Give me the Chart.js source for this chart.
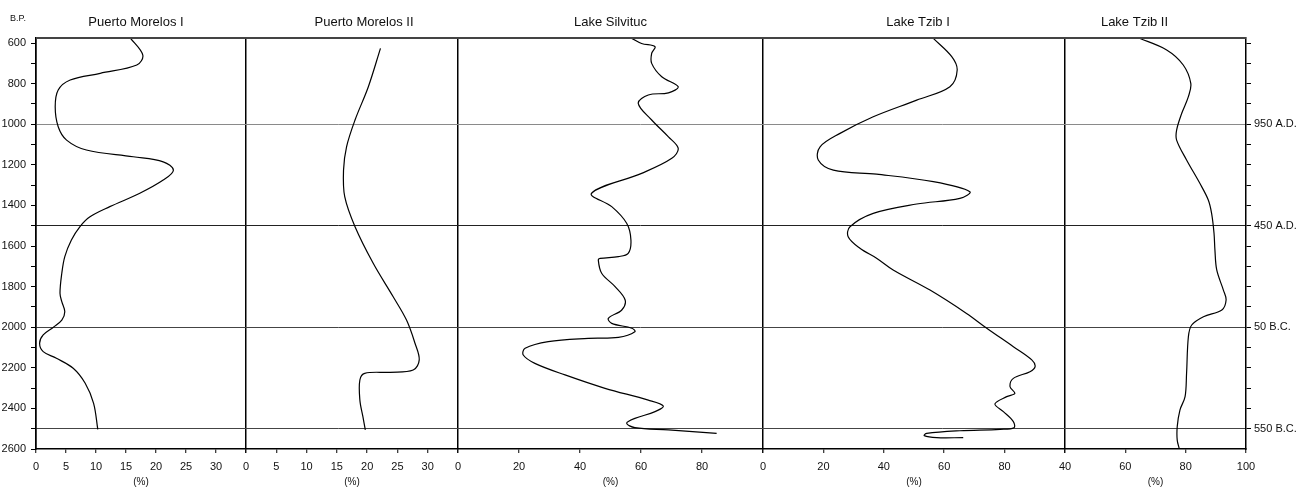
<!DOCTYPE html>
<html>
<head>
<meta charset="utf-8">
<script src="https://cdn.jsdelivr.net/npm/chart.js@4"></script>
<style>
  body { margin: 0; background: #fff; }
  #wrap { width: 1309px; height: 488px; }
</style>
</head>
<body>
<div id="wrap"><canvas id="chart"></canvas></div>
<script>
// Age axis (years B.P.)
const ageTicks = [600, 700, 800, 900, 1000, 1100, 1200, 1300, 1400, 1500, 1600, 1700, 1800, 1900, 2000, 2100, 2200, 2300, 2400, 2500, 2600];
const eraTicks = [600, 700, 800, 900, 1000, 1100, 1200, 1300, 1400, 1500, 1600, 1700, 1800, 1900, 2000, 2100, 2200, 2300, 2400, 2500];
const eraLabels = { 1000: "950 A.D.", 1500: "450 A.D.", 2000: "50 B.C.", 2500: "550 B.C." };

// Panels
const panelNames = ["Puerto Morelos I", "Puerto Morelos II", "Lake Silvituc", "Lake Tzib I", "Lake Tzib II"];
const panelRanges = [[0, 35], [0, 35], [0, 100], [0, 100], [40, 100]];
const panelTicks = [
  [0, 5, 10, 15, 20, 25, 30, 35],
  [0, 5, 10, 15, 20, 25, 30, 35],
  [0, 20, 40, 60, 80, 100],
  [0, 20, 40, 60, 80, 100],
  [40, 60, 80, 100]
];

// Series: [percent, years B.P.]
const puertoMorelos1 = [[15.7, 574], [17.8, 659], [16.8, 708], [10.7, 749], [5.7, 782], [3.7, 831], [3.2, 914], [3.7, 1012], [5.1, 1078], [8.4, 1127], [16.2, 1160], [21.2, 1185], [22.9, 1226], [21.2, 1275], [17.3, 1340], [12.3, 1406], [9.0, 1456], [7.3, 1505], [5.9, 1570], [4.8, 1652], [4.3, 1734], [4.0, 1833], [4.3, 1874], [4.8, 1924], [4.3, 1965], [2.9, 2000], [1.2, 2038], [0.6, 2079], [1.2, 2120], [3.4, 2153], [6.2, 2202], [8.2, 2276], [9.6, 2375], [10.3, 2503]];
const puertoMorelos2 = [[22.2, 626], [20.2, 815], [18.0, 979], [16.6, 1111], [16.1, 1226], [16.3, 1357], [18.0, 1505], [21.0, 1685], [24.3, 1850], [26.5, 1965], [27.9, 2079], [28.6, 2161], [27.6, 2211], [23.8, 2222], [19.6, 2227], [18.8, 2260], [18.8, 2359], [19.3, 2441], [19.7, 2506]];
const lakeSilvituc = [[57.0, 577], [60.2, 602], [64.6, 618], [63.5, 651], [63.5, 700], [66.8, 766], [72.2, 815], [69.0, 845], [62.4, 856], [59.1, 897], [63.5, 979], [69.0, 1062], [72.2, 1119], [70.1, 1168], [60.2, 1242], [43.8, 1340], [50.4, 1406], [55.3, 1488], [56.7, 1570], [55.8, 1636], [52.6, 1652], [46.6, 1661], [46.0, 1669], [47.1, 1734], [51.5, 1800], [54.8, 1866], [53.7, 1915], [49.3, 1956], [50.4, 1981], [57.0, 2005], [58.0, 2022], [52.6, 2050], [42.7, 2055], [29.6, 2071], [22.0, 2104], [21.4, 2137], [25.2, 2178], [35.1, 2235], [48.2, 2301], [62.4, 2359], [67.3, 2388], [64.6, 2416], [58.0, 2449], [55.3, 2473], [58.0, 2495], [69.0, 2506], [84.8, 2523]];
const lakeTzib1 = [[56.4, 577], [62.5, 667], [64.3, 733], [61.9, 815], [50.9, 881], [36.5, 963], [25.5, 1045], [18.9, 1111], [18.3, 1176], [23.3, 1226], [37.6, 1246], [56.4, 1283], [68.5, 1332], [65.2, 1365], [50.9, 1393], [36.5, 1439], [28.8, 1505], [28.2, 1554], [32.1, 1611], [37.6, 1660], [43.1, 1718], [55.3, 1817], [67.4, 1932], [74.1, 2005], [82.9, 2096], [89.0, 2161], [90.1, 2194], [88.4, 2219], [82.9, 2252], [81.8, 2293], [83.4, 2326], [80.7, 2342], [76.8, 2378], [79.6, 2416], [82.9, 2465], [83.1, 2495], [78.5, 2503], [65.2, 2510], [54.2, 2523], [53.4, 2534], [57.5, 2544], [66.3, 2544]];
const lakeTzib2 = [[64.3, 574], [73.7, 634], [79.2, 708], [81.7, 799], [80.9, 864], [78.7, 946], [77.0, 1029], [77.0, 1078], [80.3, 1176], [84.7, 1291], [87.5, 1373], [88.6, 1439], [89.4, 1537], [89.7, 1620], [90.3, 1718], [92.5, 1817], [93.4, 1866], [92.0, 1915], [85.9, 1948], [82.0, 1989], [80.9, 2047], [80.3, 2227], [79.8, 2342], [78.1, 2408], [77.2, 2490], [77.2, 2556], [77.9, 2600]];

const allSeries = [puertoMorelos1, puertoMorelos2, lakeSilvituc, lakeTzib1, lakeTzib2];

// layout / style
const panelWidths = [210, 212, 305, 302, 181];
const titleShift = [-5, 12, 0, 4, -21];
const eraLineColors = { 1000: "#8a8a8a", 1500: "#222", 2000: "#444", 2500: "#444" };
const FONT = "'Liberation Sans', Arial, sans-serif";

Chart.defaults.font.family = FONT;
Chart.defaults.color = "#111";

const scales = {};
panelNames.forEach((name, i) => {
  const [lo, hi] = panelRanges[i];
  scales["x" + i] = {
    type: "linear",
    axis: "x",
    position: "bottom",
    stack: "panels",
    stackWeight: panelWidths[i],
    min: lo,
    max: hi,
    afterBuildTicks: s => { s.ticks = panelTicks[i].map(v => ({ value: v })); },
    afterFit: s => { s.height = 39; },
    ticks: {
      autoSkip: false,
      maxRotation: 0,
      padding: 7,
      font: { size: 11 },
      callback: v => (v === hi && i < panelNames.length - 1) ? "" : v
    },
    grid: {
      color: c => (c.tick && c.tick.value === lo) ? "#000" : "rgba(0,0,0,0)",
      lineWidth: 1.5,
      tickColor: "#000",
      tickLength: 4,
      tickWidth: 1
    },
    border: { color: "#000", width: 1.5 },
    title: { display: true, text: "(%)", font: { size: 10 }, padding: 0 }
  };
});

scales.y = {
  type: "linear",
  axis: "y",
  position: "left",
  reverse: true,
  min: 575,
  max: 2600,
  afterBuildTicks: s => { s.ticks = ageTicks.map(v => ({ value: v })); },
  afterFit: s => { s.width = 36; },
  ticks: { autoSkip: false, padding: 5, font: { size: 11 }, callback: v => v % 200 === 0 ? v : "" },
  grid: { drawOnChartArea: false, tickLength: 5, tickColor: "#000" },
  border: { color: "#000", width: 1.5 }
};

scales.era = {
  type: "linear",
  axis: "y",
  position: "right",
  reverse: true,
  min: 575,
  max: 2600,
  afterBuildTicks: s => { s.ticks = eraTicks.map(v => ({ value: v })); },
  afterFit: s => { s.width = 63; },
  ticks: { autoSkip: false, padding: 3, font: { size: 11 }, callback: v => eraLabels[v] || "" },
  grid: {
    color: c => (c.tick && eraLineColors[c.tick.value]) || "rgba(0,0,0,0)",
    lineWidth: 1,
    tickColor: "#000",
    tickLength: 5
  },
  border: { color: "#000", width: 1.5 }
};

// Panel titles, top frame line and "B.P." label
const decorations = {
  id: "decorations",
  afterDraw(chart) {
    const ctx = chart.ctx;
    const a = chart.chartArea;
    ctx.save();
    ctx.strokeStyle = "#444";
    ctx.lineWidth = 2;
    ctx.beginPath();
    ctx.moveTo(a.left, a.top);
    ctx.lineTo(a.right, a.top);
    ctx.stroke();

    ctx.fillStyle = "#111";
    ctx.textAlign = "center";
    ctx.textBaseline = "middle";
    ctx.font = "13px " + FONT;
    panelNames.forEach((name, i) => {
      const s = chart.scales["x" + i];
      ctx.fillText(name, (s.left + s.right) / 2 + titleShift[i], 22);
    });
    ctx.font = "9px " + FONT;
    ctx.fillText("B.P.", 18, 19);
    ctx.restore();
  }
};

new Chart(document.getElementById("chart"), {
  type: "line",
  data: {
    datasets: allSeries.map((series, i) => ({
      label: panelNames[i],
      data: series.map(([x, y]) => ({ x, y })),
      xAxisID: "x" + i,
      yAxisID: "y",
      borderColor: "#000",
      borderWidth: 1.2,
      pointRadius: 0,
      tension: 0.35,
      fill: false
    }))
  },
  options: {
    responsive: true,
    maintainAspectRatio: false,
    animation: false,
    layout: { padding: { top: 38, left: 0, right: 0, bottom: 0 } },
    plugins: { legend: { display: false }, tooltip: { enabled: false } },
    scales
  },
  plugins: [decorations]
});
</script>
</body>
</html>
